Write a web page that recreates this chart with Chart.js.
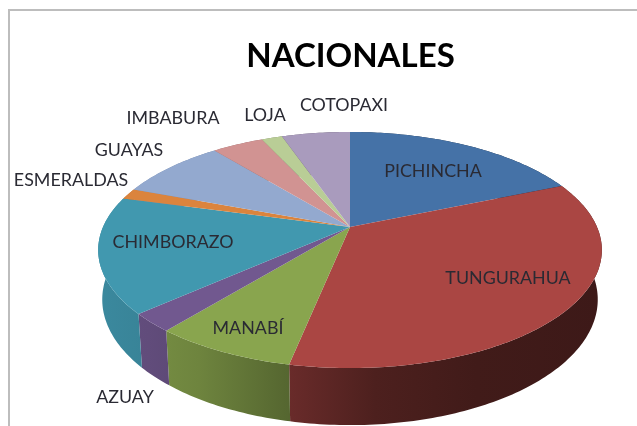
<!DOCTYPE html>
<html><head><meta charset="utf-8">
<style>
html,body{margin:0;padding:0;background:#fff}
#wrap{position:absolute;left:0;top:0;width:637px;height:426px;overflow:hidden}
canvas{filter:blur(0.45px)}
#frameL{position:absolute;left:8px;top:9px;width:2px;height:417px;background:#bdbdbd}
#frameT{position:absolute;left:8px;top:9px;width:629px;height:2px;background:#bdbdbd}
</style>
<script src="https://cdn.jsdelivr.net/npm/chart.js@4"></script>
</head><body>
<div id="wrap"><canvas id="c" width="637" height="426"></canvas>
<div id="frameL"></div><div id="frameT"></div></div>
<script>
const categories=["PICHINCHA","TUNGURAHUA","MANABÍ","AZUAY","CHIMBORAZO","ESMERALDAS","GUAYAS","IMBABURA","LOJA","COTOPAXI"];
const values=[18.7,34.6,7.7,2.5,15.9,1.5,8.4,4.0,1.6,5.3];
const colors=["#4572a7","#aa4643","#89a54e","#71588f","#4198af","#db843d","#93a9cf","#d19392","#b9cd96","#a99bbd"];
const titleText="NACIONALES";

const labelAnchors={PICHINCHA:[433,172],TUNGURAHUA:[508,279],"MANABÍ":[248,329],AZUAY:[125,398],CHIMBORAZO:[173,243],ESMERALDAS:[71,181],GUAYAS:[129,151],IMBABURA:[173,119],LOJA:[265,116],COTOPAXI:[344,106]};
const top3d={cx:350,R:247,a:69.3,b:227,k:-0.195};
const bot3d={cx:350,R:243,a:67.2,b:275,k:-0.195};
function proj(p,th){const x=Math.cos(th),y=Math.sin(th),d=1+p.k*y;return [p.cx+p.R*x/d,(p.a*y+p.b)/d];}
function shade(hex,f){const n=parseInt(hex.slice(1),16);return `rgb(${Math.round((n>>16)*f)},${Math.round(((n>>8)&255)*f)},${Math.round((n&255)*f)})`;}
const pie3d={id:'pie3d',
 beforeDatasetsDraw(chart){
  const ctx=chart.ctx,arcs=chart.getDatasetMeta(0).data;
  ctx.save();
  arcs.forEach((arc,i)=>{
    const g=ctx.createLinearGradient(98,0,602,0);
    [[0,.9],[.1,.86],[.2,.8],[.38,.62],[.55,.45],[.75,.38],[1,.36]].forEach(s=>g.addColorStop(s[0],shade(colors[i],s[1])));
    ctx.fillStyle=g;ctx.beginPath();
    const n=Math.max(4,Math.ceil((arc.endAngle-arc.startAngle)*60));
    for(let j=0;j<=n;j++){const t=arc.startAngle+(arc.endAngle-arc.startAngle)*j/n,q=proj(top3d,t);j?ctx.lineTo(q[0],q[1]):ctx.moveTo(q[0],q[1]);}
    for(let j=n;j>=0;j--){const t=arc.startAngle+(arc.endAngle-arc.startAngle)*j/n,q=proj(bot3d,t);ctx.lineTo(q[0],q[1]);}
    ctx.closePath();ctx.fill();
  });
  arcs.forEach((arc,i)=>{
    ctx.fillStyle=colors[i];ctx.beginPath();ctx.moveTo(top3d.cx,top3d.b);
    const n=Math.max(4,Math.ceil((arc.endAngle-arc.startAngle)*60));
    for(let j=0;j<=n;j++){const t=arc.startAngle+(arc.endAngle-arc.startAngle)*j/n,q=proj(top3d,t);ctx.lineTo(q[0],q[1]);}
    ctx.closePath();ctx.fill();
  });
  ctx.restore();
  return false;
 },
 afterDraw(chart){
  const ctx=chart.ctx;
  ctx.font='17px Lato, "Open Sans", sans-serif';ctx.fillStyle='#2a2a33';ctx.textAlign='center';ctx.textBaseline='middle';
  categories.forEach(c=>{const a=labelAnchors[c];ctx.save();ctx.translate(a[0],a[1]);ctx.scale(1.05,1);ctx.fillText(c,0,0);ctx.restore();});
 }};
new Chart(document.getElementById('c'),{
 type:'pie',
 data:{labels:categories,datasets:[{data:values,backgroundColor:colors,borderWidth:0}]},
 options:{responsive:false,animation:false,
  layout:{padding:{left:64}},
  plugins:{legend:{display:false},tooltip:{enabled:false},
   title:{display:true,text:titleText,color:'#000',font:{family:'Lato, "Open Sans", sans-serif',size:33,weight:'bold'},padding:{top:37,bottom:8}}}},
 plugins:[pie3d]});
</script>
</body></html>
